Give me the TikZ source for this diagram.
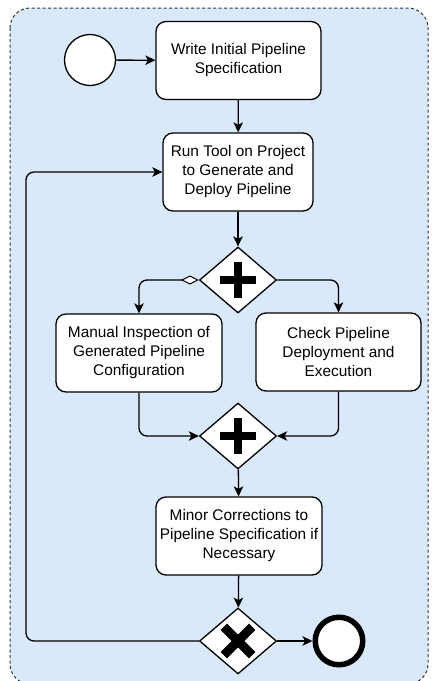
\documentclass[tikz,border=0pt]{standalone}
\usepackage{fontspec}
\setmainfont{Liberation Sans}
\usetikzlibrary{shapes.geometric,arrows.meta}
\definecolor{poolblue}{HTML}{DAE8FC}
\tikzset{
  x=1pt, y=-1pt,
  flow/.style={line width=1.3pt, -{Stealth[length=10pt,width=9.5pt,inset=2.5pt]}},
  task/.style={draw, fill=white, line width=1.3pt, rounded corners=10pt,
    minimum width=165pt, minimum height=78pt, inner sep=0pt, align=center,
    font=\fontsize{15.4pt}{19pt}\selectfont},
  gateway/.style={draw, fill=white, diamond, line width=1.3pt, inner sep=0pt,
    minimum width=77pt, minimum height=66pt},
  startevent/.style={draw, fill=white, circle, line width=1.3pt, minimum size=51pt, inner sep=0pt},
  endevent/.style={draw, fill=white, circle, line width=5.5pt, minimum size=47.5pt, inner sep=0pt}
}
\begin{document}
\begin{tikzpicture}
\useasboundingbox (0,0) rectangle (432,681);
% pool background
\draw[fill=poolblue, draw=black!80, line width=1pt, dash pattern=on 3pt off 2.5pt, rounded corners=20pt]
  (10,8) rectangle (428,684);

% events and tasks
\node[startevent] (start) at (90,60) {};
\node[task] (t1) at (238.5,60.5) {Write Initial Pipeline\\Specification};
\node[task, minimum width=150pt] (t2) at (238,172) {Run Tool on Project\\to Generate and\\Deploy Pipeline};
\node[gateway] (g1) at (238,280) {};
\node[task, minimum width=166pt] (t3) at (139,353) {Manual Inspection of\\Generated Pipeline\\Configuration};
\node[task] (t4) at (338.5,352) {Check Pipeline\\Deployment and\\Execution};
\node[gateway] (g2) at (238,436) {};
\node[task, minimum width=166pt] (t5) at (239,536) {Minor Corrections to\\Pipeline Specification if\\Necessary};
\node[gateway] (g3) at (238,641) {};
\node[endevent] (end) at (339,641) {};

% gateway markers: parallel (plus) and exclusive (cross)
\fill (g1.center) ++(-18,-4) rectangle ++(36,8);
\fill (g1.center) ++(-4,-18) rectangle ++(8,36);
\fill (g2.center) ++(-18,-4) rectangle ++(36,8);
\fill (g2.center) ++(-4,-18) rectangle ++(8,36);
\begin{scope}[shift={(g3.center)}, rotate=45]
  \fill (-20,-4.5) rectangle (20,4.5);
  \fill (-4.5,-20) rectangle (4.5,20);
\end{scope}

% sequence flows
\draw[flow] (start) -- (t1);
\draw[flow] (t1) -- (t2);
\draw[flow] (t2) -- (g1);
\draw[line width=1.3pt, rounded corners=8pt,
  {Diamond[length=18pt,width=9pt,fill=white,line width=1pt]}-{Stealth[length=10pt,width=9.5pt,inset=2.5pt]}]
  (g1.west) -| (t3.north);
\draw[flow, rounded corners=8pt] (g1.east) -| (t4.north);
\draw[flow, rounded corners=8pt] (t3.south) |- (g2.west);
\draw[flow, rounded corners=8pt] (t4.south) |- (g2.east);
\draw[flow] (g2) -- (t5);
\draw[flow] (t5) -- (g3);
\draw[flow] (g3) -- (end);
\coordinate (loop) at (26,641);
\draw[flow, rounded corners=8pt] (g3.west) -- (loop) |- (t2.west);
\end{tikzpicture}
\end{document}
